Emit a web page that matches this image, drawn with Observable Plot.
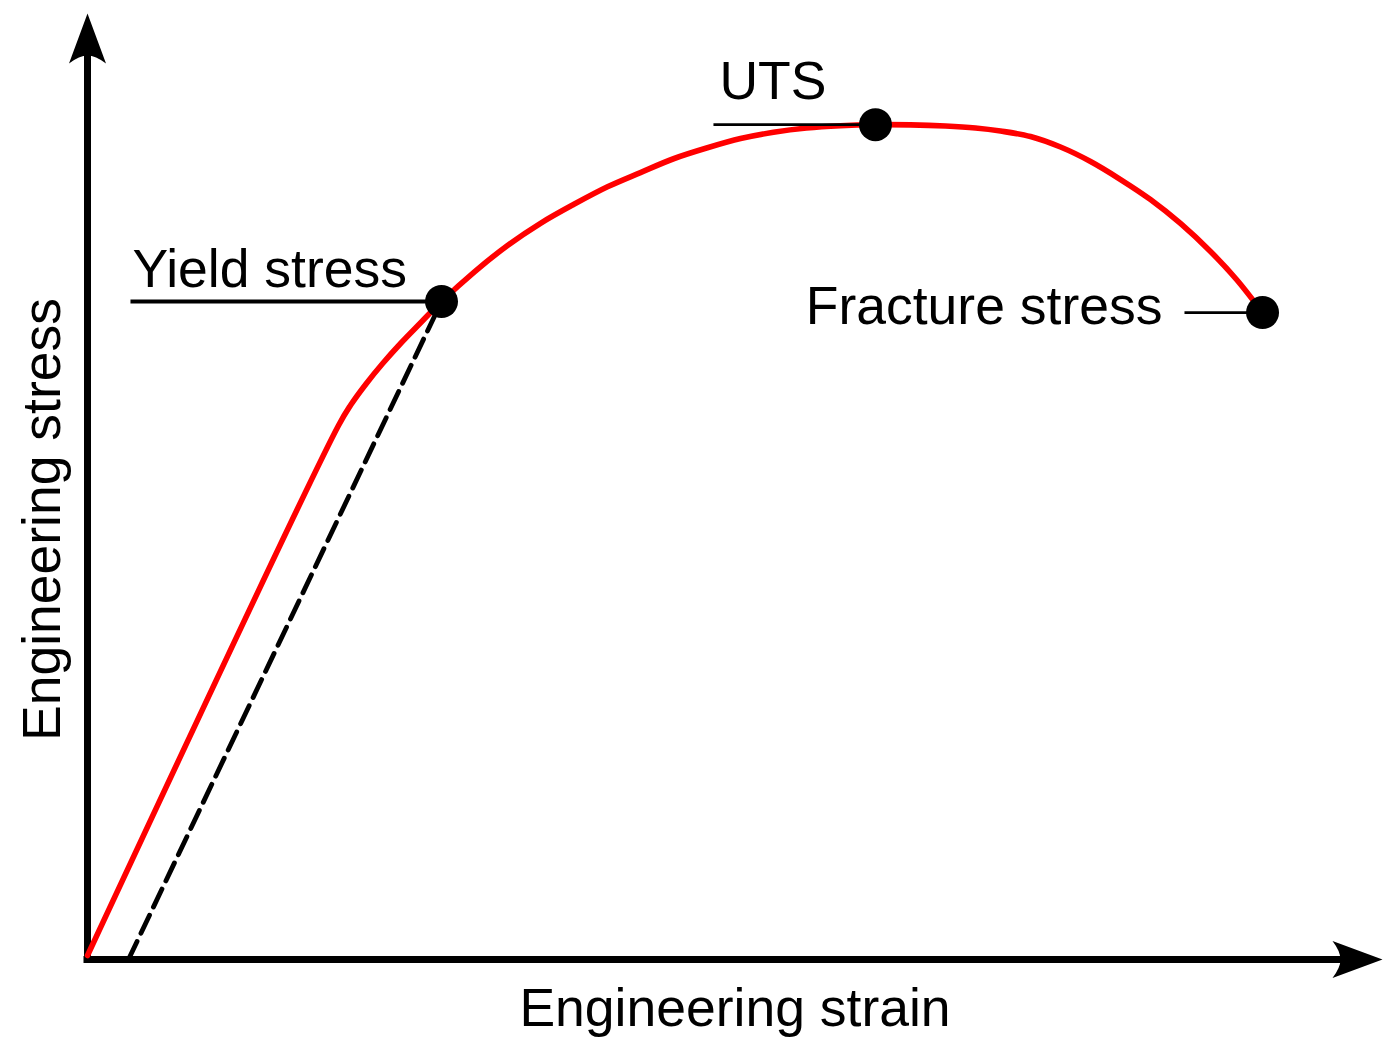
<!DOCTYPE html>
<html>
<head>
<meta charset="utf-8">
<script src="https://cdn.jsdelivr.net/npm/d3@7"></script>
<script src="https://cdn.jsdelivr.net/npm/@observablehq/plot@0.6"></script>
<style>
  html, body { margin: 0; padding: 0; background: #fff; }
  #chart svg { display: block; }
</style>
</head>
<body>
<div id="chart"></div>
<script>
// Engineering stress–strain curve (normalised units: UTS ≈ 1, fracture strain ≈ 1)
const curveStrain = [0, 0.2132, 0.2237, 0.2364, 0.2507, 0.2665, 0.2834, 0.3007, 0.3287, 0.3568, 0.3848, 0.4128, 0.4417, 0.4697, 0.4978, 0.5266, 0.5547, 0.5827, 0.6107, 0.6396, 0.6693, 0.6991, 0.7288, 0.7543, 0.7755, 0.8010, 0.8265, 0.8520, 0.8775, 0.9029, 0.9284, 0.9539, 0.9760, 0.9981];
const curveStress = [0.0048, 0.6379, 0.6626, 0.6872, 0.7119, 0.7367, 0.7612, 0.7860, 0.8215, 0.8529, 0.8794, 0.9018, 0.9230, 0.9400, 0.9565, 0.9696, 0.9806, 0.9881, 0.9932, 0.9960, 0.9972, 0.9970, 0.9956, 0.9932, 0.9896, 0.9831, 0.9705, 0.9532, 0.9317, 0.9078, 0.8792, 0.8457, 0.8123, 0.7728];

// Key points
const pointNames  = ["Yield stress", "UTS", "Fracture stress"];
const pointStrain = [0.3007, 0.6693, 0.9981];
const pointStress = [0.7860, 0.9972, 0.7728];
// strain where each label's leader line begins
const leaderStrain = [0.0365, 0.5317, 0.9318];

// 0.2% offset line (parallel to elastic part), from offset strain to the yield point
const offsetStrain = [0.0348, 0.3007];
const offsetStress = [0, 0.7860];

const axisLabels = ["Engineering strain", "Engineering stress"];

const curve = curveStrain.map((s, i) => ({strain: s, stress: curveStress[i]}));
const points = pointNames.map((n, i) => ({name: n, strain: pointStrain[i], stress: pointStress[i], lead: leaderStrain[i]}));
const offset = offsetStrain.map((s, i) => ({strain: s, stress: offsetStress[i]}));

const arrowHead = {
  draw(ctx) {
    ctx.moveTo(0, 0);
    ctx.lineTo(-50, -18.5);
    ctx.quadraticCurveTo(-42, -8, -42, 0);
    ctx.quadraticCurveTo(-42, 8, -50, 18.5);
    ctx.closePath();
  }
};

const font = "Liberation Sans, Arial, Helvetica, sans-serif";
const fs = 53.5;

const chart = Plot.plot({
  width: 1400,
  height: 1050,
  marginLeft: 87,
  marginRight: 18,
  marginTop: 13,
  marginBottom: 91,
  style: {background: "#fff", fontFamily: font},
  x: {domain: [0, 1.1], axis: null},
  y: {domain: [0, 1.13], axis: null},
  marks: [
    // axes
    Plot.ruleY([0], {stroke: "#000", strokeWidth: 7, insetLeft: -3.5, insetRight: 40}),
    Plot.ruleX([0], {stroke: "#000", strokeWidth: 7, insetTop: 40, insetBottom: -3.5}),
    Plot.dot([0], {y: d => d, frameAnchor: "right", symbol: arrowHead, r: 10, fill: "#000", stroke: "none"}),
    Plot.dot([0], {x: d => d, frameAnchor: "top", symbol: arrowHead, r: 10, fill: "#000", stroke: "none", rotate: -90}),
    // offset line
    Plot.line(offset, {x: "strain", y: "stress", stroke: "#000", strokeWidth: 4.8, strokeDasharray: "20,9"}),
    // curve
    Plot.line(curve, {x: "strain", y: "stress", stroke: "#ff0000", strokeWidth: 5.6, curve: "catmull-rom", strokeLinejoin: "round"}),
    // leader lines
    Plot.link(points, {x1: "lead", x2: "strain", y1: "stress", y2: "stress", stroke: "#000",
      strokeWidth: (d, i) => i === 0 ? 4 : 2.7}),
    Plot.dot(points, {x: "strain", y: "stress", r: 16.5, fill: "#000", stroke: "none"}),
    // labels
    Plot.text(points.slice(0, 1), {x: "lead", y: "stress", text: "name", textAnchor: "start", lineAnchor: "bottom",
      dx: 2, dy: -14, fontSize: fs, fill: "#000"}),
    Plot.text(points.slice(1, 2), {x: "lead", y: "stress", text: "name", textAnchor: "start", lineAnchor: "bottom",
      dx: 6, dy: -26, fontSize: fs, fill: "#000"}),
    Plot.text(points.slice(2, 3), {x: "lead", y: "stress", text: "name", textAnchor: "end", lineAnchor: "bottom",
      dx: -22, dy: 11, fontSize: fs, fill: "#000"}),
    // axis titles
    Plot.text([axisLabels[0]], {text: d => d, frameAnchor: "bottom", textAnchor: "middle", lineAnchor: "bottom", dy: 66, fontSize: fs, fill: "#000"}),
    Plot.text([axisLabels[1]], {text: d => d, frameAnchor: "left", textAnchor: "middle", lineAnchor: "bottom", rotate: -90, dx: -28, dy: 33, fontSize: fs, fill: "#000"})
  ]
});
document.getElementById("chart").appendChild(chart);
</script>
</body>
</html>
